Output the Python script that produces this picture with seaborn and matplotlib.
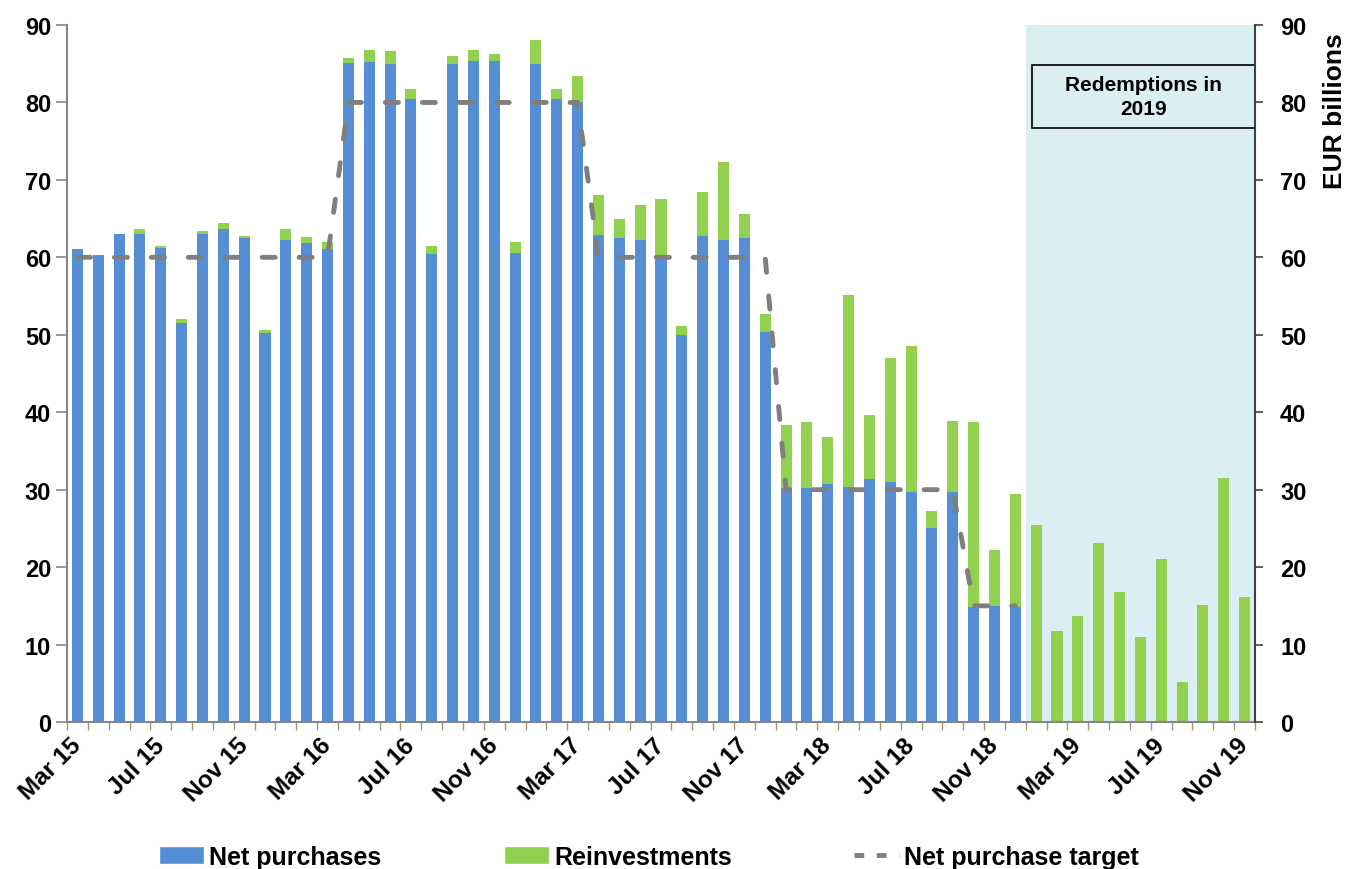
import numpy as np
import pandas as pd
import seaborn as sns
import matplotlib.pyplot as plt
from matplotlib.patches import Patch, Rectangle
from matplotlib.lines import Line2D

sns.set_style('ticks')
plt.rcParams['font.family'] = ['Liberation Sans', 'DejaVu Sans']
plt.rcParams['font.weight'] = 'bold'
plt.rcParams['text.color'] = 'black'
plt.rcParams['axes.labelcolor'] = 'black'

# monthly categories Mar 15 .. Nov 19
months = pd.date_range('2015-03-01', '2019-11-01', freq='MS').strftime('%b %y').tolist()

# EUR billions
net = [61.1, 60.3, 63.0, 63.0, 61.2, 51.5, 63.0, 63.7, 62.5, 50.2,
       62.3, 61.9, 61.1, 85.1, 85.2, 84.9, 80.4, 60.4, 85.0, 85.3,
       85.3, 60.6, 84.9, 80.4, 80.1, 62.9, 62.5, 62.2, 59.9, 50.0,
       62.7, 62.3, 62.5, 50.4, 30.2, 30.2, 30.7, 30.4, 31.4, 31.0,
       29.7, 25.1, 29.7, 14.8, 15.0, 14.9,
       0, 0, 0, 0, 0, 0, 0, 0, 0, 0, 0]
reinv = [0.0, 0.0, 0.0, 0.6, 0.2, 0.5, 0.4, 0.7, 0.3, 0.4,
         1.4, 0.7, 0.9, 0.6, 1.6, 1.7, 1.3, 1.0, 1.0, 1.5,
         0.9, 1.4, 3.1, 1.4, 3.3, 5.1, 2.4, 4.5, 7.6, 1.1,
         5.8, 10.0, 3.1, 2.3, 8.2, 8.6, 6.1, 24.7, 8.3, 16.0,
         18.9, 2.1, 9.2, 23.9, 7.2, 14.5,
         25.4, 11.8, 13.7, 23.1, 16.8, 11.0, 21.0, 5.2, 15.1, 31.5, 16.2]
# net purchase target, Mar 15 .. Dec 18
target = [60] * 13 + [80] * 12 + [60] * 9 + [30] * 9 + [15] * 3

blue = '#558ED5'
green = '#92D050'
shade = '#DAEEF3'
grey = '#7F7F7F'

df = pd.DataFrame({'month': months, 'net': net, 'reinv': reinv})
df['total'] = df['net'] + df['reinv']

fig, ax = plt.subplots(figsize=(13.5, 8.7), dpi=100)
fig.subplots_adjust(left=67/1350, right=1255/1350, top=1-26/870, bottom=1-723/870)

ax.axvspan(45.5, 56.5, color=shade, lw=0, zorder=0)

# stacked bars: total (green) behind, net (blue) in front
sns.barplot(data=df, x='month', y='total', color=green, width=0.53,
            saturation=1, linewidth=0, ax=ax, zorder=2)
sns.barplot(data=df, x='month', y='net', color=blue, width=0.53,
            saturation=1, linewidth=0, ax=ax, zorder=3)
sns.lineplot(x=np.arange(len(target)), y=target, ax=ax, color=grey, lw=3.5,
             linestyle=(0, (2.7, 4.9)), dash_capstyle='round', zorder=4)

ax.set_xlim(-0.5, 56.5)
ax.set_ylim(0, 90)
ax.set_xlabel('')
ax.set_ylabel('')

ax.set_xticks(range(0, 57, 4))
ax.set_xticklabels(months[::4], rotation=45, ha='right', va='center',
                   rotation_mode='anchor', fontsize=17.5, fontweight='bold')
ax.set_xticks(np.arange(-0.5, 57, 1), minor=True)
ax.tick_params(axis='x', which='major', length=0, pad=14, labelcolor='black')
ax.tick_params(axis='x', which='minor', length=6, width=1, color='#B09070')
ax.set_yticks(range(0, 91, 10))
ax.tick_params(axis='y', length=8, width=1.2, color='#868686', labelsize=17,
               labelcolor='black')

for s in ['top', 'right']:
    ax.spines[s].set_visible(False)
for s in ['left', 'bottom']:
    ax.spines[s].set_color('#868686')
    ax.spines[s].set_linewidth(1.5)

ax2 = ax.twinx()
ax2.set_ylim(0, 90)
ax2.set_yticks(range(0, 91, 10))
ax2.tick_params(axis='y', length=6, width=1.2, color='#404040', labelsize=17,
                labelcolor='black', pad=12)
ax2.set_ylabel('EUR billions', fontsize=19, fontweight='bold',
               rotation=90, rotation_mode='anchor', ha='right', va='center')
ax2.yaxis.set_label_coords(1.067, 0.99)
for s in ['top', 'left', 'bottom']:
    ax2.spines[s].set_visible(False)
ax2.spines['right'].set_color('#404040')
ax2.spines['right'].set_linewidth(1.5)

ax.add_patch(Rectangle((45.8, 76.7), 10.7, 8.1, fc=shade, ec='black', lw=1.2,
                       zorder=5, clip_on=False))
ax.text(51.15, 80.75, 'Redemptions in\n2019', ha='center', va='center',
        fontsize=15, fontweight='bold', linespacing=1.3, zorder=6)

handles = [Patch(fc=blue), Patch(fc=green),
           Line2D([0], [0], color=grey, lw=3.5, linestyle=(0, (2.0, 2.6)))]
fig.legend(handles, ['Net purchases', 'Reinvestments', 'Net purchase target'],
           loc='center', bbox_to_anchor=(0.481, 0.014), ncol=3, frameon=False,
           fontsize=18, handlelength=1.8, handletextpad=0.2, columnspacing=4.9)

fig.savefig('out.png', dpi=100)
